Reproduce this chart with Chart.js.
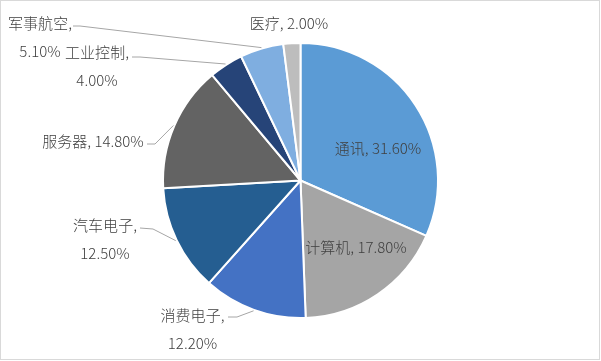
<!DOCTYPE html>
<html>
<head>
<meta charset="utf-8">
<script src="https://cdn.jsdelivr.net/npm/chart.js@4/dist/chart.umd.min.js"></script>
<style>
html,body{margin:0;padding:0;background:#fff;}
canvas{display:block;}
</style>
</head>
<body>
<canvas id="c" width="601" height="361"></canvas>
<script>
// ---- data ----
const categories = ['通讯', '计算机', '消费电子', '汽车电子', '服务器', '工业控制', '军事航空', '医疗'];
const shares = [31.6, 17.8, 12.2, 12.5, 14.8, 4.0, 5.1, 2.0];
const valueLabels = ['31.60%', '17.80%', '12.20%', '12.50%', '14.80%', '4.00%', '5.10%', '2.00%'];

// ---- styling / layout (not data) ----
const colors = ['#5B9BD5', '#A5A5A5', '#4472C4', '#255E91', '#636363', '#264478', '#7FAEE0', '#BDBDBD'];
// label layout: center x, y of first line; two-line flag; leader start (x,y) and elbow point
const labelLayout = [
  {x: 378, y: 148, split: false},
  {x: 356, y: 247, split: false},
  {x: 192.5, y: 315, split: true, lead: [228, 317, 237, 317]},
  {x: 105, y: 225, split: true, lead: [140, 228, 153, 229]},
  {x: 93, y: 141, split: false, lead: [147, 144, 155, 144]},
  {x: 97, y: 52, split: true, lead: [132, 57, 140, 57]},
  {x: 40, y: 23, split: true, lead: [73, 26, 80, 26]},
  {x: 289, y: 23, split: false}
];
const FONT = '300 15px "Noto Sans CJK SC", "Noto Sans", sans-serif';

const labelPlugin = {
  id: 'labels',
  afterDraw(chart) {
    const ctx = chart.ctx;
    const meta = chart.getDatasetMeta(0);
    ctx.save();
    ctx.font = FONT;
    ctx.textAlign = 'center';
    ctx.textBaseline = 'middle';
    meta.data.forEach((arc, i) => {
      const L = labelLayout[i];
      const mid = (arc.startAngle + arc.endAngle) / 2;
      if (L.lead) {
        const ex = arc.x + Math.cos(mid) * (arc.outerRadius + 1);
        const ey = arc.y + Math.sin(mid) * (arc.outerRadius + 1);
        ctx.strokeStyle = '#A6A6A6';
        ctx.lineWidth = 1;
        ctx.beginPath();
        ctx.moveTo(L.lead[0], L.lead[1]);
        ctx.lineTo(L.lead[2], L.lead[3]);
        ctx.lineTo(ex, ey);
        ctx.stroke();
      }
      ctx.fillStyle = '#404040';
      if (L.split) {
        ctx.fillText(categories[i] + ',', L.x, L.y);
        ctx.fillText(valueLabels[i], L.x, L.y + 28);
      } else {
        ctx.fillText(categories[i] + ', ' + valueLabels[i], L.x, L.y);
      }
    });
    ctx.strokeStyle = '#D9D9D9';
    ctx.lineWidth = 1;
    ctx.strokeRect(0.5, 0.5, 599, 359);
    ctx.restore();
  }
};

new Chart(document.getElementById('c'), {
  type: 'pie',
  data: {
    labels: categories,
    datasets: [{
      data: shares,
      backgroundColor: colors,
      borderColor: '#FFFFFF',
      borderWidth: 2
    }]
  },
  options: {
    responsive: false,
    animation: false,
    layout: {padding: {top: 42, bottom: 42, left: 0, right: 0}},
    plugins: {legend: {display: false}, tooltip: {enabled: false}},
  },
  plugins: [labelPlugin]
});
</script>
</body>
</html>
